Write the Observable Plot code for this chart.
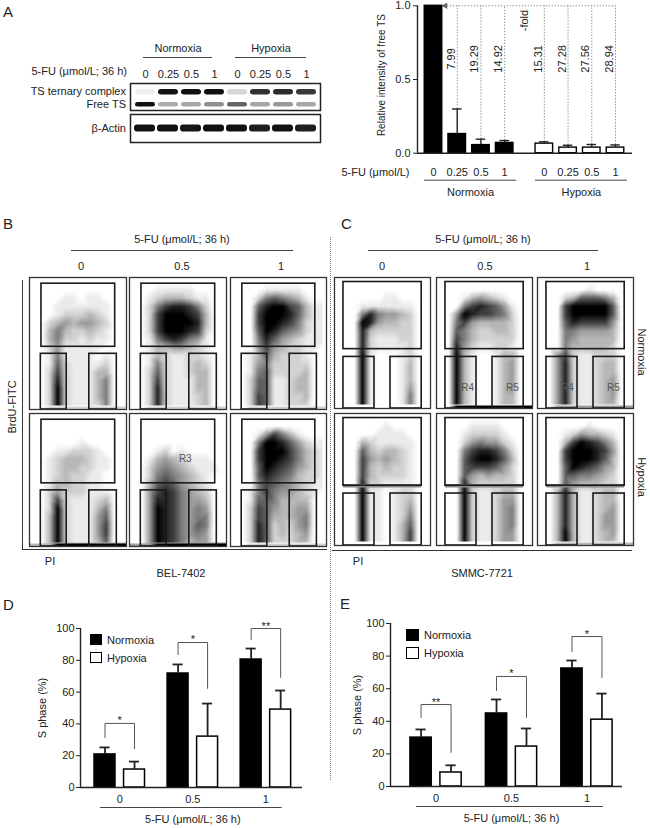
<!DOCTYPE html>
<html><head><meta charset="utf-8">
<script src="https://cdn.jsdelivr.net/npm/d3@7"></script>
<script src="https://cdn.jsdelivr.net/npm/@observablehq/plot@0.6"></script>
<style>
body{margin:0;background:#fff;}
#fig{position:relative;width:650px;height:828px;font-family:"Liberation Sans",Arial,Helvetica,sans-serif;color:#222;overflow:hidden;background:#fff;}
.t{position:absolute;white-space:nowrap;font-size:11px;line-height:1;}
</style></head><body><div id="fig"></div><script>
// ---------------- DATA ----------------
// Panel A: western blot
const laneDose = ["0","0.25","0.5","1","0","0.25","0.5","1"];
const laneCond = ["Normoxia","Normoxia","Normoxia","Normoxia","Hypoxia","Hypoxia","Hypoxia","Hypoxia"];
const complexBand = [0.02, 0.95, 0.95, 0.95, 0.12, 0.82, 0.84, 0.78];
const freeBand    = [0.95, 0.30, 0.32, 0.42, 0.60, 0.32, 0.38, 0.32];
const actinBand   = [0.95, 0.95, 0.93, 0.95, 0.95, 0.90, 0.95, 0.90];
// Panel A: relative intensity of free TS
const aDoses = ["0","0.25","0.5","1"];
const aConds = ["Normoxia","Hypoxia"];
const aFree    = [1.0, 0.13, 0.055, 0.07, 0.065, 0.038, 0.038, 0.038];
const aFreeErr = [0, 0.17, 0.04, 0.016, 0.012, 0.016, 0.021, 0.018];
const aFold    = [null, "7.99", "19.29", "14.92", "15.31", "27.28", "27.56", "28.94"];
// Panels B, C: flow cytometry density (estimated, 12 cols x 16 rows, 0-9)
const flowDoses = ["0","0.5","1"];
const bNorm0 = ["000000000000","000000000000","000011011000","000111111100","000122232100","002343443200","003532232100","003522121100","002411111000","001511110100","001621111200","002721113300","002821113500","002921113500","002921113500","002921112500"];
const bNorm05 = ["000000000000","000111110000","001233321100","002578875200","002799987300","002799998300","002799987200","001578754100","001334432100","001321122100","001521123200","002621123300","002721113300","002821113300","002821112300","002821112300"];
const bNorm1 = ["000000000000","000011111000","000256543100","000689976311","000799986311","000799875211","000698654211","000586432111","000474322110","001363222100","001452222200","001562222300","002661123300","002661123300","002761122300","002761122200"];
const bHyp0 = ["000000000000","000000000000","000000000000","000000100000","000112221000","001233321100","001233221100","001232211000","001332211000","002422211100","002721112300","002921113500","003921114600","003921114700","003921114700","003921113600"];
const bHyp05 = ["000000000000","000000000000","000000000000","000000000000","000120100000","001343211100","002454321110","002565432100","003676432100","004787543200","004887544300","004987545400","004987545500","004987546500","004987545400","004987534400"];
const bHyp1 = ["000000000000","000000000000","000147531000","000599864211","000799975321","000799875321","000698764321","000687653221","000576543211","001575443210","001665333300","002764334400","002763334500","002862324500","002862323400","002862223300"];
const cNorm0 = ["000000000000","000000000000","000000110000","000111111100","000585443200","000984332200","000832222200","000821112200","000821111200","000910001200","000910001300","000910001300","000910001300","000910001400","000910001500","000910001500"];
const cNorm05 = ["000000000000","000000000000","000134321000","000578764100","004987765200","005743333200","006532233200","007532222200","008421122100","009310013300","009310013400","009310013400","009310013400","009310013400","009310013300","009310013300"];
const cNorm1 = ["000000000000","000000100000","000236665300","000799999600","000799999600","000687777400","000554444300","000543333300","000533333200","004721122200","004821123300","004821123300","004821123400","004821123400","004821123400","004821123300"];
const cHyp0 = ["000000000000","000000100000","000001111000","000321111100","000632332100","000743432100","000732322100","000732222100","000822111100","000911012200","000911012300","000911012400","000911012500","000911013600","000911013700","000911013700"];
const cHyp05 = ["000000000000","000011110000","000122221000","000245442100","000578875200","000689986300","000677764200","000643433200","000832222200","000921123300","000921124400","000921124500","000921124500","000921124500","000921124400","000921124400"];
const cHyp1 = ["000000000000","000000100000","000124332100","000379875300","000799987400","000799986300","000698764300","000665543200","000643332200","003831123300","003831123300","003831123400","003831124400","003831124400","003931123400","003931123300"];
const bGates = [{x1:1.48,x2:10.6,y1:0.75,y2:8.4},{x1:1.4,x2:4.6,y1:9.25,y2:16},{x1:7.4,x2:10.8,y1:9.25,y2:16}];
const cGates = [{x1:1.12,x2:10.9,y1:0.55,y2:8.75},{x1:1.12,x2:5.0,y1:9.7,y2:16},{x1:7.0,x2:10.9,y1:9.7,y2:16}];
// Panels D, E: S phase (%)
const sDoses = ["0","0.5","1"];
const dNorm = [20.8, 71.7, 80.5], dNormErr = [4.4, 5.7, 6.9];
const dHyp  = [11.3, 32.0, 49.0], dHypErr  = [5.0, 20.8, 12.0];
const dSig = ["*","*","**"];
const dBracket = [[31.4,40.3,24.5],[83.6,91.2,62.3],[93.1,100,69.2]];
const eNorm = [30.0, 44.8, 72.4], eNormErr = [5.0, 8.6, 4.9];
const eHyp  = [8.6, 24.5, 41.0],  eHypErr  = [4.4, 11.1, 16.0];
const eSig = ["**","*","*"];
const eBracket = [[42.3,50.3,20.9],[58.9,67.5,42.3],[82.8,92,66.9]];

// ---------------- HELPERS ----------------
const FONT = '"Liberation Sans", Arial, Helvetica, sans-serif';
const STYLE = {fontFamily: FONT, fontSize: "11px", overflow: "visible", background: "none", color: "#222"};
const fig = document.getElementById("fig");
function txt(s, x, y, o = {}) {
  const d = document.createElement("div");
  d.className = "t"; d.textContent = s;
  const a = o.anchor || "middle";
  const tx = a === "start" ? "0" : a === "end" ? "-100%" : "-50%";
  d.style.left = x + "px"; d.style.top = y + "px";
  d.style.transform = o.rotate ? `translate(-50%,-50%) rotate(${o.rotate}deg)` : `translate(${tx},-50%)`;
  if (o.size) d.style.fontSize = o.size + "px";
  fig.appendChild(d);
}
function line(x1, y1, x2, y2, o = {}) {
  const d = document.createElement("div");
  d.style.position = "absolute";
  const w = o.w || 1, c = o.c || "#444", st = o.style || "solid";
  if (y1 === y2) { d.style.left = x1+"px"; d.style.top = (y1 - w/2)+"px"; d.style.width = (x2-x1)+"px"; d.style.borderTop = `${w}px ${st} ${c}`; }
  else { d.style.left = (x1 - w/2)+"px"; d.style.top = y1+"px"; d.style.height = (y2-y1)+"px"; d.style.borderLeft = `${w}px ${st} ${c}`; }
  fig.appendChild(d);
}
function box(x, y, w, h, fill) {
  const d = document.createElement("div");
  Object.assign(d.style, {position:"absolute", left:x+"px", top:y+"px", width:w+"px", height:h+"px", background:fill, border:"1.5px solid #000", boxSizing:"border-box"});
  fig.appendChild(d);
}
function put(el, left, top) {
  el.style.position = "absolute"; el.style.left = left + "px"; el.style.top = top + "px";
  fig.appendChild(el);
}

// ---------------- PANEL A: BLOT ----------------
const blotColor = {type: "linear", domain: [0, 1], range: ["#f3f3f3", "#050505"]};
const blot1Rows = laneDose.flatMap((d, i) => [{lane: i, row: "complex", v: complexBand[i]}, {lane: i, row: "free", v: freeBand[i]}]);
const blot1 = Plot.plot({
  width: 192, height: 51, marginLeft: 1, marginRight: 1, marginTop: 23, marginBottom: 1,
  x: {type: "band", domain: d3.range(laneDose.length), padding: 0.14, axis: null},
  y: {type: "band", domain: ["complex", "free"], padding: 0, axis: null},
  color: blotColor, style: STYLE,
  marks: [
    Plot.cell(blot1Rows.filter(d => d.row === "complex"), {x: "lane", y: "row", fill: "v", insetTop: 5, insetBottom: 2.5, rx: 3}),
    Plot.cell(blot1Rows.filter(d => d.row === "free"), {x: "lane", y: "row", fill: "v", insetTop: 5, insetBottom: 3.5, rx: 2.5}),
    Plot.axisX({anchor: "top", tickSize: 0, tickPadding: 6, tickFormat: i => laneDose[i], label: null}),
    Plot.frame({stroke: "#222", strokeWidth: 1.5})
  ]
});
put(blot1, 129, 60);
const blot2Rows = laneDose.map((d, i) => ({lane: i, row: "actin", v: actinBand[i]}));
const blot2 = Plot.plot({
  width: 192, height: 30, margin: 1,
  x: {type: "band", domain: d3.range(laneDose.length), padding: 0.08, axis: null},
  y: {type: "band", domain: ["actin"], padding: 0, axis: null},
  color: blotColor, style: STYLE,
  marks: [
    Plot.cell(blot2Rows, {x: "lane", y: "row", fill: "v", insetTop: 10.5, insetBottom: 10.5, rx: 3}),
    Plot.frame({stroke: "#222", strokeWidth: 1.5})
  ]
});
put(blot2, 129, 113);
txt("A", 3, 11, {anchor: "start", size: 15});
txt("Normoxia", 178, 48); line(143, 57, 212, 57);
txt("Hypoxia", 271, 48); line(235, 57, 306, 57);
txt("5-FU (μmol/L; 36 h)", 127, 71, {anchor: "end"});
txt("TS ternary complex", 126, 91, {anchor: "end"});
txt("Free TS", 126, 104, {anchor: "end"});
txt("β-Actin", 126, 128, {anchor: "end"});

// ---------------- PANEL A: BAR CHART ----------------
const GAP_A = 4.67;
const aRows = aFree.map((v, i) => ({cond: aConds[Math.floor(i / 4)], dose: aDoses[i % 4], v, e: aFreeErr[i], fold: aFold[i], pos: Math.floor(i / 4) * GAP_A + (i % 4)}));
const aGroups = aConds.map(c => { const r = aRows.filter(d => d.cond === c); return {c, x1: r[0].pos - 0.38, x2: r[r.length - 1].pos + 0.5}; });
const xA0 = -0.674, xA1 = 8.386;
const dotted = {stroke: "#8a8a8a", strokeDasharray: "1.3,1.7", strokeWidth: 1};
const chartA = Plot.plot({
  width: 330, height: 200, marginLeft: 97, marginRight: 18, marginTop: 4.3, marginBottom: 48.3,
  x: {domain: [xA0, xA1], axis: null}, y: {domain: [0, 1], axis: null}, style: STYLE,
  marks: [
    Plot.ruleY([1], {x1: aRows[0].pos + 0.45, x2: aRows[aRows.length - 1].pos, ...dotted}),
    Plot.ruleX(aRows.slice(1), {x: "pos", y1: d => d.v + d.e, y2: 1, ...dotted}),
    Plot.dot([aRows[0]], {x: d => d.pos + 0.5, y: 1, symbol: "triangle", r: 2.4, rotate: -90, fill: "#666", stroke: "none"}),
    Plot.rect(aRows.filter(d => d.cond === "Normoxia"), {x1: d => d.pos - 0.37, x2: d => d.pos + 0.37, y1: 0, y2: "v", fill: "#000", stroke: "#000", strokeWidth: 1.4}),
    Plot.rect(aRows.filter(d => d.cond === "Hypoxia"), {x1: d => d.pos - 0.37, x2: d => d.pos + 0.37, y1: 0, y2: "v", fill: "#fff", stroke: "#000", strokeWidth: 1.4}),
    Plot.ruleX(aRows.filter(d => d.e > 0), {x: "pos", y1: "v", y2: d => d.v + d.e, strokeWidth: 1.4}),
    Plot.ruleY(aRows.filter(d => d.e > 0), {y: d => d.v + d.e, x1: d => d.pos - 0.2, x2: d => d.pos + 0.2, strokeWidth: 1.4}),
    Plot.ruleX([xA0], {y1: 0, y2: 1, strokeWidth: 1.4}),
    Plot.ruleY([0], {strokeWidth: 1.4}),
    Plot.axisY({ticks: [0, 0.5, 1], tickFormat: d3.format(".1f"), tickSize: 4, tickPadding: 3, label: null}),
    Plot.text(aRows.slice(1), {x: "pos", y: 0.64, text: "fold", rotate: -90, dx: -6}),
    Plot.text(["-fold"], {x: aRows[3].pos + (GAP_A - 3) / 2, y: 0.9, text: d => d, rotate: -90}),
    Plot.text(aRows, {x: "pos", y: 0, text: "dose", dy: 19}),
    Plot.text(["5-FU (μmol/L)"], {x: xA0, y: 0, text: d => d, dx: -8, dy: 19, textAnchor: "end"}),
    Plot.ruleY(aGroups, {y: 0, x1: "x1", x2: "x2", dy: 27, stroke: "#444"}),
    Plot.text(aGroups, {x: d => (d.x1 + d.x2) / 2, y: 0, text: "c", dy: 39}),
    Plot.text(["Relative intensity of free TS"], {x: xA0, y: 0.53, text: d => d, dx: -36, rotate: -90, fontSize: 10})
  ]
});
put(chartA, 320, 1);

// ---------------- PANELS B, C: FLOW ----------------
function flowPlot(grid, gates, w, h, extra = {}) {
  const samples = [];
  grid.forEach((row, r) => [...row].forEach((ch, c) => samples.push({x: c + 0.5, y: r + 0.5, v: +ch})));
  const marks = [
    Plot.raster(samples, {x: "x", y: "y", fill: "v", interpolate: "barycentric", x1: 0, y1: 0, x2: 12, y2: 16}),
  ];
  if (extra.grayLine) marks.push(Plot.ruleY([gates[0].y2], {x1: gates[0].x1, x2: gates[0].x2, stroke: "#8a8a8a", strokeWidth: 3.5}));
  marks.push(Plot.rect(gates, {x1: "x1", x2: "x2", y1: "y1", y2: "y2", stroke: "#1a1a1a", strokeWidth: 1.6, fill: "none"}));
  if (extra.labels) marks.push(Plot.text(extra.labels, {x: "x", y: "y", text: "t", fill: "#555", fontSize: 10}));
  marks.push(Plot.frame({stroke: "#333", strokeWidth: 1.3}));
  return Plot.plot({
    width: w + 2, height: h + 2, margin: 1,
    x: {domain: [0, 12], axis: null}, y: {domain: [0, 16], reverse: true, axis: null},
    color: {type: "pow", exponent: 1.15, domain: [0, 9], range: ["#ffffff", "#000000"], clamp: true},
    style: STYLE, marks
  });
}
const bGrids = [[bNorm0, bNorm05, bNorm1], [bHyp0, bHyp05, bHyp1]];
const cGrids = [[cNorm0, cNorm05, cNorm1], [cHyp0, cHyp05, cHyp1]];
const bLefts = [29, 129, 230], bW = [97, 97, 96], bTops = [277, 413], bH = [132, 133];
const cLefts = [334, 436, 537], cW = [96, 96, 96], cTops = [277, 413], cH = [131, 132];
const flowLabels = {
  "b-1-1": [{x: 6.9, y: 5.5, t: "R3"}],
  "c-0-1": [{x: 3.9, y: 13.5, t: "R4"}, {x: 9.5, y: 13.5, t: "R5"}],
  "c-0-2": [{x: 3.75, y: 13.5, t: "R4"}, {x: 9.5, y: 13.5, t: "R5"}]
};
for (let r = 0; r < 2; r++) for (let c = 0; c < 3; c++) {
  put(flowPlot(bGrids[r][c], bGates, bW[c], bH[r], {labels: flowLabels[`b-${r}-${c}`]}), bLefts[c] - 1, bTops[r] - 1);
  put(flowPlot(cGrids[r][c], cGates, cW[c], cH[r], {labels: flowLabels[`c-${r}-${c}`], grayLine: r === 1}), cLefts[c] - 1, cTops[r] - 1);
}
txt("B", 3, 223, {anchor: "start", size: 15});
txt("C", 341, 223, {anchor: "start", size: 15});
txt("5-FU (μmol/L; 36 h)", 182, 239); line(71, 250, 293, 250);
txt("5-FU (μmol/L; 36 h)", 483, 239); line(368, 250, 598, 250);
[81, 182, 281].forEach((x, i) => txt(flowDoses[i], x, 266));
[382, 485, 587].forEach((x, i) => txt(flowDoses[i], x, 266));
line(23, 280, 23, 550, {w: 1.3, c: "#333"}); line(23, 550, 327, 550, {w: 1.3, c: "#333"});
line(332, 551, 632, 551, {w: 1.3, c: "#333"});
txt("BrdU-FITC", 12, 407, {rotate: -90});
txt("PI", 50, 561); txt("PI", 358, 561);
txt("BEL-7402", 181, 573); txt("SMMC-7721", 482, 573);
txt("Normoxia", 641, 352, {rotate: 90});
txt("Hypoxia", 641, 477, {rotate: 90});
line(330, 237, 330, 780, {w: 1, c: "#777", style: "dotted"});

// ---------------- PANELS D, E: S PHASE ----------------
function sPhase(o) {
  const rows = [];
  sDoses.forEach((dose, g) => {
    rows.push({dose, cond: "Normoxia", v: o.norm[g], e: o.normErr[g], pos: g * o.gap});
    rows.push({dose, cond: "Hypoxia", v: o.hyp[g], e: o.hypErr[g], pos: g * o.gap + 1});
  });
  const groups = sDoses.map((dose, g) => ({dose, c: g * o.gap + 0.5, sig: o.sig[g], b: o.br[g], l: g * o.gap, r: g * o.gap + 1}));
  const brLines = groups.flatMap(d => [
    {k: d.dose, x: d.l, y: d.b[0]}, {k: d.dose, x: d.l, y: d.b[1]},
    {k: d.dose, x: d.r, y: d.b[1]}, {k: d.dose, x: d.r, y: d.b[2]}]);
  const hw = 0.355;
  return Plot.plot({
    width: o.w, height: o.h, marginLeft: o.mL, marginRight: o.mR, marginTop: o.mT, marginBottom: o.mB,
    x: {domain: o.xd, axis: null}, y: {domain: [0, 100], axis: null}, style: STYLE,
    marks: [
      Plot.line(brLines, {x: "x", y: "y", z: "k", stroke: "#555", strokeWidth: 1}),
      Plot.text(groups, {x: "c", y: d => d.b[1], text: "sig", lineAnchor: "bottom", dy: 1}),
      Plot.rect(rows.filter(d => d.cond === "Normoxia"), {x1: d => d.pos - hw, x2: d => d.pos + hw, y1: 0, y2: "v", fill: "#000", stroke: "#000", strokeWidth: 1.5}),
      Plot.rect(rows.filter(d => d.cond === "Hypoxia"), {x1: d => d.pos - hw, x2: d => d.pos + hw, y1: 0, y2: "v", fill: "#fff", stroke: "#000", strokeWidth: 1.5}),
      Plot.ruleX(rows, {x: "pos", y1: "v", y2: d => d.v + d.e, strokeWidth: 1.8}),
      Plot.ruleY(rows, {y: d => d.v + d.e, x1: d => d.pos - 0.17, x2: d => d.pos + 0.17, strokeWidth: 1.8}),
      Plot.ruleX([o.xd[0]], {y1: 0, y2: 100, strokeWidth: 1.4}),
      Plot.ruleY([0], {strokeWidth: 1.4}),
      Plot.axisY({ticks: d3.range(0, 101, 20), tickSize: 4, tickPadding: 2, label: null}),
      Plot.text(groups, {x: "c", y: 0, text: "dose", dy: 12}),
      Plot.ruleY([0], {x1: groups[0].c - 0.65, x2: groups[groups.length - 1].c + 0.55, dy: 20, stroke: "#444"}),
      Plot.text(["5-FU (μmol/L; 36 h)"], {x: groups[1].c, y: 0, text: d => d, dy: 32}),
      Plot.text(["S phase (%)"], {x: o.xd[0], y: 50, text: d => d, rotate: -90, dx: o.tdx})
    ]
  });
}
put(sPhase({norm: dNorm, normErr: dNormErr, hyp: dHyp, hypErr: dHypErr, sig: dSig, br: dBracket,
  gap: 2.475, xd: [-0.83, 6.69], w: 325, h: 228, mL: 80, mR: 23, mT: 28, mB: 41, tdx: -38}), 0, 600);
put(sPhase({norm: eNorm, normErr: eNormErr, hyp: eHyp, hypErr: eHypErr, sig: eSig, br: eBracket,
  gap: 2.517, xd: [-1.02, 6.72], w: 325, h: 228, mL: 65, mR: 28, mT: 23, mB: 42, tdx: -33}), 325, 600);
txt("D", 3, 604, {anchor: "start", size: 15});
txt("E", 340, 603, {anchor: "start", size: 15});
box(90, 634, 12, 11, "#000"); txt("Normoxia", 107, 640, {anchor: "start"});
box(90, 652, 12, 11, "#fff"); txt("Hypoxia", 107, 658, {anchor: "start"});
box(406, 629, 13, 12, "#000"); txt("Normoxia", 424, 635, {anchor: "start"});
box(406, 647, 13, 12, "#fff"); txt("Hypoxia", 424, 653, {anchor: "start"});
</script></body></html>
